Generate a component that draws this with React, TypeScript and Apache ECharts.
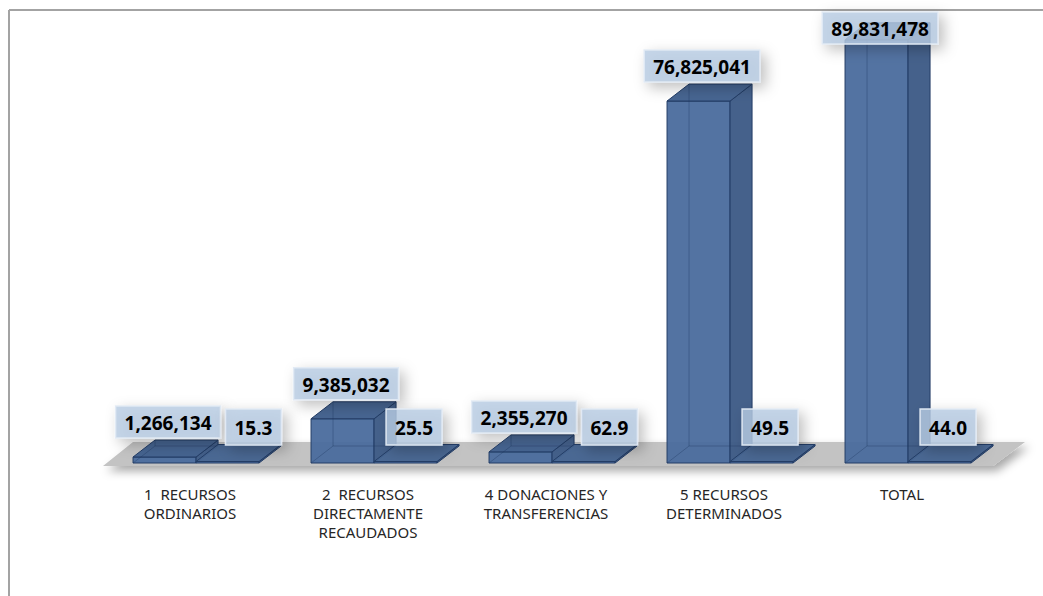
import React, { useEffect, useRef } from "react";
import * as echarts from "echarts";

const categories = [
  "1  RECURSOS\nORDINARIOS",
  "2  RECURSOS\nDIRECTAMENTE\nRECAUDADOS",
  "4 DONACIONES Y\nTRANSFERENCIAS",
  "5 RECURSOS\nDETERMINADOS",
  "TOTAL",
];
const amounts = [1266134, 9385032, 2355270, 76825041, 89831478];
const percents = [15.3, 25.5, 62.9, 49.5, 44.0];

const DX = 22;
const DY = -17;
const LABEL_FONT = 'bold 19px "Noto Sans"';

let measureCtx: CanvasRenderingContext2D | null = null;
function textWidth(t: string): number {
  if (!measureCtx) measureCtx = document.createElement("canvas").getContext("2d");
  if (!measureCtx) return t.length * 10;
  measureCtx.font = LABEL_FONT;
  return measureCtx.measureText(t).width;
}

function labelEls(text: string, cx: number, cy: number, h: number) {
  const w = textWidth(text) + 18;
  return [
    {
      type: "rect",
      z2: 90,
      shape: { x: cx - w / 2, y: cy - h / 2, width: w, height: h },
      style: {
        fill: "rgba(184,204,228,0.8)",
        stroke: "rgba(226,234,244,0.95)",
        lineWidth: 1.5,
        shadowBlur: 14,
        shadowColor: "rgba(0,0,0,0.3)",
        shadowOffsetX: 5,
        shadowOffsetY: 5,
      },
    },
    {
      type: "text",
      x: cx,
      y: cy + 1,
      z2: 100,
      style: {
        text,
        fill: "#000",
        font: LABEL_FONT,
        align: "center",
        verticalAlign: "middle",
      },
    },
  ];
}

function geom(api: any, slot: number) {
  const i = api.value(0);
  const v = api.value(1);
  const top = api.coord([i, v]);
  const base = api.coord([i, 0]);
  const band = api.size([1, 0])[0];
  const w = band * 0.354;
  const x1 = top[0] - band * 0.32;
  const xl = x1 + slot * w;
  return { i, v, xl, xr: xl + w, x1, w, y0: base[1], yt: Math.min(top[1], base[1] - 1.5) };
}

function boxEls(xl: number, xr: number, yt: number, y0: number, topFill: string) {
  const edge = { stroke: "#233d66", lineWidth: 1 };
  const hidden = { stroke: "rgba(30,55,95,0.35)", lineWidth: 1, fill: null };
  const els: any[] = [
    {
      type: "polygon",
      shape: { points: [[xl, yt], [xr, yt], [xr, y0], [xl, y0]] },
      style: { fill: "rgba(74,108,157,0.95)", ...edge },
    },
    {
      type: "polygon",
      shape: { points: [[xr, y0], [xr + DX, y0 + DY], [xr + DX, yt + DY], [xr, yt]] },
      style: { fill: "rgba(61,91,134,0.96)", ...edge },
    },
    {
      type: "polygon",
      shape: { points: [[xl, yt], [xl + DX, yt + DY], [xr + DX, yt + DY], [xr, yt]] },
      style: { fill: topFill, ...edge },
    },
  ];
  if (y0 - yt > 4) {
    els.push(
      { type: "line", shape: { x1: xl + DX, y1: y0 + DY, x2: xl + DX, y2: yt + DY }, style: hidden },
      { type: "line", shape: { x1: xl + DX, y1: y0 + DY, x2: xr + DX, y2: y0 + DY }, style: hidden },
      { type: "line", shape: { x1: xl, y1: y0, x2: xl + DX, y2: y0 + DY }, style: hidden }
    );
  }
  return els;
}

function amountCenter(g: any) {
  return { cx: g.x1 + 35, cy: Math.max(g.yt + DY - 18, 28) };
}

function renderAmount(params: any, api: any) {
  const g = geom(api, 0);
  const text = Number(g.v).toLocaleString("en-US");
  const c = amountCenter(g);
  const children = [
    ...boxEls(g.xl, g.xr, g.yt, g.y0, "rgba(63,95,140,0.96)"),
    ...labelEls(text, c.cx, c.cy, 32),
  ];
  return { type: "group", children };
}

function renderPct(params: any, api: any) {
  const g = geom(api, 1);
  const text = Number(g.v).toFixed(1);
  const pw = textWidth(text) + 18;
  // position relative to the amount label of the same category, avoiding overlap
  const amtVal = amounts[g.i];
  const amtTop = api.coord([g.i, amtVal])[1];
  const ag = { ...g, yt: Math.min(amtTop, g.y0 - 1.5) };
  const ac = amountCenter(ag);
  const aw = textWidth(Number(amtVal).toLocaleString("en-US")) + 18;
  let cx = g.xl + 40;
  const cy = g.y0 - 36;
  if (Math.abs(ac.cy - cy) < 36) {
    cx = Math.max(cx, ac.cx + aw / 2 + 5 + pw / 2);
  }
  const children = [
    ...boxEls(g.xl, g.xr, g.yt, g.y0, "rgba(69,100,145,0.96)"),
    ...labelEls(text, cx, cy, 36),
  ];
  return { type: "group", children };
}

function renderFloor(params: any, api: any) {
  const cs = params.coordSys;
  const x0 = cs.x;
  const x1 = cs.x + cs.width;
  const y0 = cs.y + cs.height;
  return {
    type: "polygon",
    z2: 0,
    shape: {
      points: [
        [x0 + 2, y0 + 3],
        [x1 + 2, y0 + 3],
        [x1 + 34, y0 - 21],
        [x0 + 32, y0 - 21],
      ],
    },
    style: {
      fill: "#c3c3c3",
      shadowBlur: 10,
      shadowColor: "rgba(0,0,0,0.35)",
      shadowOffsetX: 4,
      shadowOffsetY: 5,
    },
  };
}

export default function App() {
  const ref = useRef<HTMLDivElement>(null);
  useEffect(() => {
    document.body.style.margin = "0";
    const chart = echarts.init(ref.current!, null, { renderer: "svg" });
    chart.setOption({
      animation: false,
      backgroundColor: "#ffffff",
      grid: { left: 101, right: 52, top: 39, bottom: 133 },
      xAxis: {
        type: "category",
        data: categories,
        axisLine: { show: false },
        axisTick: { show: false },
        axisLabel: {
          margin: 21,
          fontSize: 15,
          lineHeight: 19,
          color: "#262626",
          fontFamily: "Noto Sans",
          interval: 0,
        },
      },
      yAxis: { type: "value", min: 0, max: 90000000, show: false, splitLine: { show: false } },
      graphic: [
        { type: "line", shape: { x1: 9, y1: 10, x2: 1043, y2: 10 }, style: { stroke: "#a3a3a3", lineWidth: 2 } },
        { type: "line", shape: { x1: 9, y1: 10, x2: 9, y2: 596 }, style: { stroke: "#a3a3a3", lineWidth: 2 } },
      ],
      series: [
        {
          type: "custom",
          z: 1,
          renderItem: renderFloor,
          data: [[0, 0]],
          encode: { x: 0, y: 1 },
          silent: true,
        },
        {
          type: "custom",
          z: 2,
          renderItem: renderAmount,
          data: amounts.map((v, i) => [i, v]),
          encode: { x: 0, y: 1 },
        },
        {
          type: "custom",
          z: 2,
          renderItem: renderPct,
          data: percents.map((v, i) => [i, v]),
          encode: { x: 0, y: 1 },
        },
      ],
    });
    return () => chart.dispose();
  }, []);
  return <div ref={ref} style={{ width: 1043, height: 596 }} />;
}
